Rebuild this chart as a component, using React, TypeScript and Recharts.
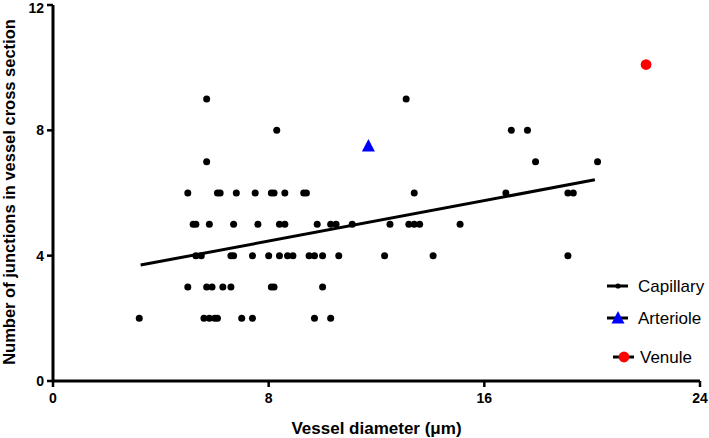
import {
  ScatterChart,
  Scatter,
  XAxis,
  YAxis,
  Legend,
  Label,
} from 'recharts'

// diameters (µm) of capillaries, grouped by number of junctions
const cap2 = [3.2, 5.6, 5.8, 6.0, 6.1, 7.0, 7.4, 9.7, 10.3]
const cap3 = [5.0, 5.7, 5.9, 6.3, 6.6, 8.1, 8.2, 10.0]
const cap4 = [5.3, 5.5, 6.6, 6.7, 7.4, 8.0, 8.4, 8.7, 8.9, 9.5, 9.7, 10.0, 10.6, 12.3, 14.1, 19.1]
const cap5 = [5.2, 5.3, 5.8, 6.7, 7.6, 8.4, 8.6, 9.8, 10.3, 10.5, 11.1, 12.5, 13.2, 13.4, 13.6, 15.1]
const cap6 = [5.0, 6.1, 6.2, 6.8, 7.5, 8.1, 8.2, 8.6, 9.3, 9.4, 13.4, 16.8, 19.1, 19.3]
const cap7 = [5.7, 17.9, 20.2]
const cap8 = [8.3, 17.0, 17.6]
const cap9 = [5.7, 13.1]

const arterioleX = [11.7]
const arterioleY = [7.5]
const venuleX = [22.0]
const venuleY = [10.1]

// linear fit for capillaries
const fitX = [3.25, 20.1]
const fitY = [3.7, 6.42]

const xTicks = [0, 8, 16, 24]
const yTicks = [0, 4, 8, 12]

const capGroups: [number, number[]][] = [
  [2, cap2],
  [3, cap3],
  [4, cap4],
  [5, cap5],
  [6, cap6],
  [7, cap7],
  [8, cap8],
  [9, cap9],
]

const capillaryData = capGroups.flatMap(([n, xs]) => xs.map((x) => ({ x, y: n })))
const arterioleData = arterioleX.map((x, i) => ({ x, y: arterioleY[i] }))
const venuleData = venuleX.map((x, i) => ({ x, y: venuleY[i] }))
const fitData = fitX.map((x, i) => ({ x, y: fitY[i] }))

const FONT = '"Liberation Sans", Arial, Helvetica, sans-serif'

const Dot = (props: any) => <circle cx={props.cx} cy={props.cy} r={3.5} fill="#000" />
const RedDot = (props: any) => <circle cx={props.cx} cy={props.cy} r={5.4} fill="#ff0000" />
const Triangle = (props: any) => {
  const { cx, cy } = props
  return (
    <polygon
      points={`${cx},${cy - 7} ${cx - 6.5},${cy + 5.5} ${cx + 6.5},${cy + 5.5}`}
      fill="#0000ff"
    />
  )
}
const Nothing = () => <g />

function LegendBox() {
  const text = { fontFamily: FONT, fontSize: 17, fill: '#000' }
  return (
    <svg width={110} height={100}>
      <line x1={7} x2={28} y1={16} y2={16} stroke="#000" strokeWidth={3} />
      <circle cx={18} cy={16} r={2.6} fill="#000" />
      <text x={38} y={22} {...text}>Capillary</text>

      <line x1={7} x2={28} y1={48} y2={48} stroke="#000" strokeWidth={3} />
      <polygon points="18,41 11.5,53.5 24.5,53.5" fill="#0000ff" />
      <text x={38} y={54} {...text}>Arteriole</text>

      <line x1={13} x2={34} y1={87} y2={87} stroke="#000" strokeWidth={3} />
      <circle cx={24} cy={87} r={5.4} fill="#ff0000" />
      <text x={40} y={93} {...text}>Venule</text>
    </svg>
  )
}

export default function App() {
  return (
    <div style={{ position: 'absolute', left: 0, top: 0, background: '#fff' }}>
      <ScatterChart
        width={709}
        height={438}
        margin={{ top: 5, right: 9, bottom: 0, left: 0 }}
      >
        <XAxis
          type="number"
          dataKey="x"
          domain={[0, 24]}
          ticks={xTicks}
          height={57}
          axisLine={{ stroke: '#000', strokeWidth: 3 }}
          tickLine={{ stroke: '#000', strokeWidth: 2.5 }}
          tickSize={6}
          tickMargin={6}
          tick={{ fill: '#000', fontSize: 14, fontWeight: 700, fontFamily: FONT }}
          allowDataOverflow
        >
          <Label
            content={(p: any) => (
              <text
                x={p.viewBox.x + p.viewBox.width / 2}
                y={p.viewBox.y + p.viewBox.height - 4}
                textAnchor="middle"
                fontFamily={FONT}
                fontSize={17}
                fontWeight={700}
                fill="#000"
              >
                Vessel diameter (μm)
              </text>
            )}
          />
        </XAxis>
        <YAxis
          type="number"
          dataKey="y"
          domain={[0, 12]}
          ticks={yTicks}
          width={53}
          axisLine={{ stroke: '#000', strokeWidth: 3 }}
          tickLine={{ stroke: '#000', strokeWidth: 2.5 }}
          tickSize={6}
          tickMargin={3}
          tick={{ fill: '#000', fontSize: 14, fontWeight: 700, fontFamily: FONT }}
          allowDataOverflow
        >
          <Label
            content={(p: any) => {
              const cx = p.viewBox.x + 14.5
              const cy = p.viewBox.y + p.viewBox.height / 2 - 1
              return (
                <text
                  x={cx}
                  y={cy}
                  transform={`rotate(-90, ${cx}, ${cy})`}
                  textAnchor="middle"
                  fontFamily={FONT}
                  fontSize={16.5}
                  fontWeight={700}
                  fill="#000"
                >
                  Number of junctions in vessel cross section
                </text>
              )
            }}
          />
        </YAxis>
        <Legend
          layout="horizontal"
          verticalAlign="middle"
          align="center"
          content={() => <LegendBox />}
          wrapperStyle={{ position: 'absolute', left: 600, top: 270, width: 110, height: 100 }}
        />
        <Scatter
          name="Capillary"
          data={capillaryData}
          shape={Dot}
          isAnimationActive={false}
        />
        <Scatter
          name="fit"
          data={fitData}
          line={{ stroke: '#000', strokeWidth: 3 }}
          shape={Nothing}
          legendType="none"
          isAnimationActive={false}
        />
        <Scatter
          name="Arteriole"
          data={arterioleData}
          shape={Triangle}
          isAnimationActive={false}
        />
        <Scatter
          name="Venule"
          data={venuleData}
          shape={RedDot}
          isAnimationActive={false}
        />
      </ScatterChart>
    </div>
  )
}
